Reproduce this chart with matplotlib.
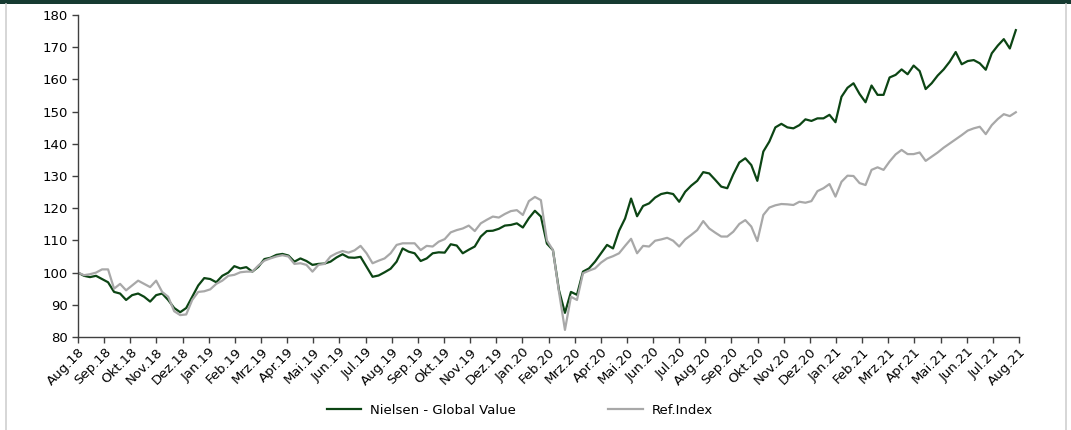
import numpy as np
import matplotlib
matplotlib.use("Agg")
import matplotlib.pyplot as plt
from matplotlib.lines import Line2D

# weekly index values, Aug 2018 - Aug 2021 (start = 100)
nielsen = [
    100, 99, 98.6, 99, 98, 97, 94, 93.5, 91.5, 93,
    93.5, 92.5, 91, 93, 93.5, 91.5, 89, 87.7, 89, 92.5,
    96, 98.3, 98, 97, 99, 100, 102, 101.3, 101.7, 100.3,
    101.8, 104.2, 104.6, 105.5, 105.8, 105.3, 103.4, 104.4, 103.6, 102.4,
    102.7, 102.8, 103.4, 104.7, 105.7, 104.7, 104.6, 104.9, 101.8, 98.7,
    99.1, 100.1, 101.2, 103.4, 107.5, 106.5, 106, 103.6, 104.4, 106,
    106.3, 106.2, 108.8, 108.4, 106, 107.1, 108.1, 111.2, 112.9, 113,
    113.6, 114.6, 114.8, 115.3, 114, 116.9, 119.2, 117.4, 109, 107,
    94.6, 87.5, 94, 93.1, 100.3, 101.3, 103.4, 106, 108.6, 107.5,
    113, 116.8, 123, 117.5, 120.7, 121.5, 123.3, 124.4, 124.8, 124.4,
    122, 125.1, 127, 128.5, 131.2, 130.8, 128.8, 126.7, 126.2, 130.5,
    134.2, 135.5, 133.4, 128.5, 137.6, 140.7, 145.1, 146.2, 145.1, 144.8,
    145.8, 147.6, 147.1, 147.9, 147.9, 149, 146.7, 154.6, 157.4, 158.8,
    155.5, 152.9, 158.1, 155.2, 155.2, 160.6, 161.4, 163.1, 161.6, 164.3,
    162.6, 157, 158.8, 161.2, 163.1, 165.5, 168.5, 164.7, 165.7, 166,
    165, 163, 168.1, 170.5, 172.5, 169.6, 175.3,
]

ref_index = [
    100, 99.2, 99.5, 100, 101, 101, 95, 96.5, 94.5, 96,
    97.5, 96.5, 95.5, 97.5, 94, 92.5, 88, 86.8, 87, 91.5,
    94, 94.2, 94.8, 96.5, 97.5, 99, 99.3, 100.1, 100.3, 100.3,
    102.2, 103.7, 104.4, 105, 105.4, 105, 102.7, 102.9, 102.4, 100.3,
    102.4, 102.7, 105, 106, 106.7, 106.2, 106.9, 108.3, 106, 102.9,
    103.7, 104.4, 106, 108.6, 109.1, 109.1, 109.1, 107, 108.3, 108.1,
    109.6, 110.4, 112.5, 113.2, 113.7, 114.6, 112.9, 115.3, 116.4, 117.4,
    117.1, 118.2, 119.1, 119.4, 117.9, 122.2, 123.5, 122.5, 110, 107,
    94.1, 82.2, 92.5, 91.5, 99.8, 100.6, 101.3, 103.1, 104.4, 105.1,
    106, 108.3, 110.5, 106, 108.3, 108.1, 109.9, 110.3, 110.8, 109.9,
    108.1, 110.3, 111.7, 113.2, 116, 113.7, 112.4, 111.2, 111.2, 112.7,
    115.1, 116.3, 114.3, 109.8, 117.9, 120.2, 120.9, 121.3, 121.2, 121,
    122, 121.7, 122.2, 125.3, 126.2, 127.5, 123.6, 128.2, 130.1, 130,
    127.8, 127.2, 131.9, 132.7, 131.9, 134.5, 136.7, 138.1, 136.8, 136.8,
    137.3, 134.7, 136, 137.3, 138.8, 140.1, 141.4, 142.7, 144.1, 144.8,
    145.3, 143, 145.8, 147.7, 149.2, 148.6, 149.8,
]

month_labels = [
    "Aug.18", "Sep.18", "Okt.18", "Nov.18", "Dez.18",
    "Jan.19", "Feb.19", "Mrz.19", "Apr.19", "Mai.19", "Jun.19",
    "Jul.19", "Aug.19", "Sep.19", "Okt.19", "Nov.19", "Dez.19",
    "Jan.20", "Feb.20", "Mrz.20", "Apr.20", "Mai.20", "Jun.20",
    "Jul.20", "Aug.20", "Sep.20", "Okt.20", "Nov.20", "Dez.20",
    "Jan.21", "Feb.21", "Mrz.21", "Apr.21", "Mai.21", "Jun.21",
    "Jul.21", "Aug.21",
]

GREEN = "#0c4514"
GREY = "#a8a8a8"
AXIS = "#404040"

plt.rcParams["font.family"] = "DejaVu Sans"

fig = plt.figure(figsize=(10.71, 4.30), dpi=100)
fig.patch.set_facecolor("white")

# frame decoration: dark band on top, thin grey borders left/right
fig.add_artist(plt.Rectangle((0, 1 - 4 / 430), 1, 4 / 430, transform=fig.transFigure,
                             color="#163a31", lw=0))
fig.add_artist(Line2D([5.5 / 1071] * 2, [0, 1 - 4 / 430], transform=fig.transFigure,
                      color="#cfcfcf", lw=1.2))
fig.add_artist(Line2D([1066 / 1071] * 2, [0, 1 - 4 / 430], transform=fig.transFigure,
                      color="#cfcfcf", lw=1.2))

ax = fig.add_axes([78 / 1071, 1 - 337 / 430, (1019 - 78) / 1071, (337 - 15) / 430])

# x in months since Aug 2018 (weekly samples)
x = np.arange(len(nielsen)) / 4.348

ax.plot(x, nielsen, color=GREEN, lw=1.6, label="Nielsen - Global Value")
ax.plot(x, ref_index, color=GREY, lw=1.6, label="Ref.Index")

ax.set_xlim(0, len(month_labels) - 1)
ax.set_ylim(80, 180)
ax.set_yticks(np.arange(80, 181, 10))
ax.set_xticks(np.arange(len(month_labels)))
ax.set_xticklabels(month_labels, rotation=45, ha="right", rotation_mode="anchor")

for s in ("top", "right"):
    ax.spines[s].set_visible(False)
for s in ("left", "bottom"):
    ax.spines[s].set_color(AXIS)
    ax.spines[s].set_linewidth(1.0)
ax.tick_params(axis="both", colors=AXIS, labelcolor="black", labelsize=9.5,
               length=4, width=1.0, direction="out")
ax.tick_params(axis="x", pad=2)

fig.legend(loc="center", bbox_to_anchor=(520 / 1071, 1 - 410 / 430), ncol=2,
           frameon=False, fontsize=9.5, handlelength=2.6, handletextpad=0.7,
           columnspacing=7.0)

fig.savefig("out.png", dpi=100, facecolor="white")
